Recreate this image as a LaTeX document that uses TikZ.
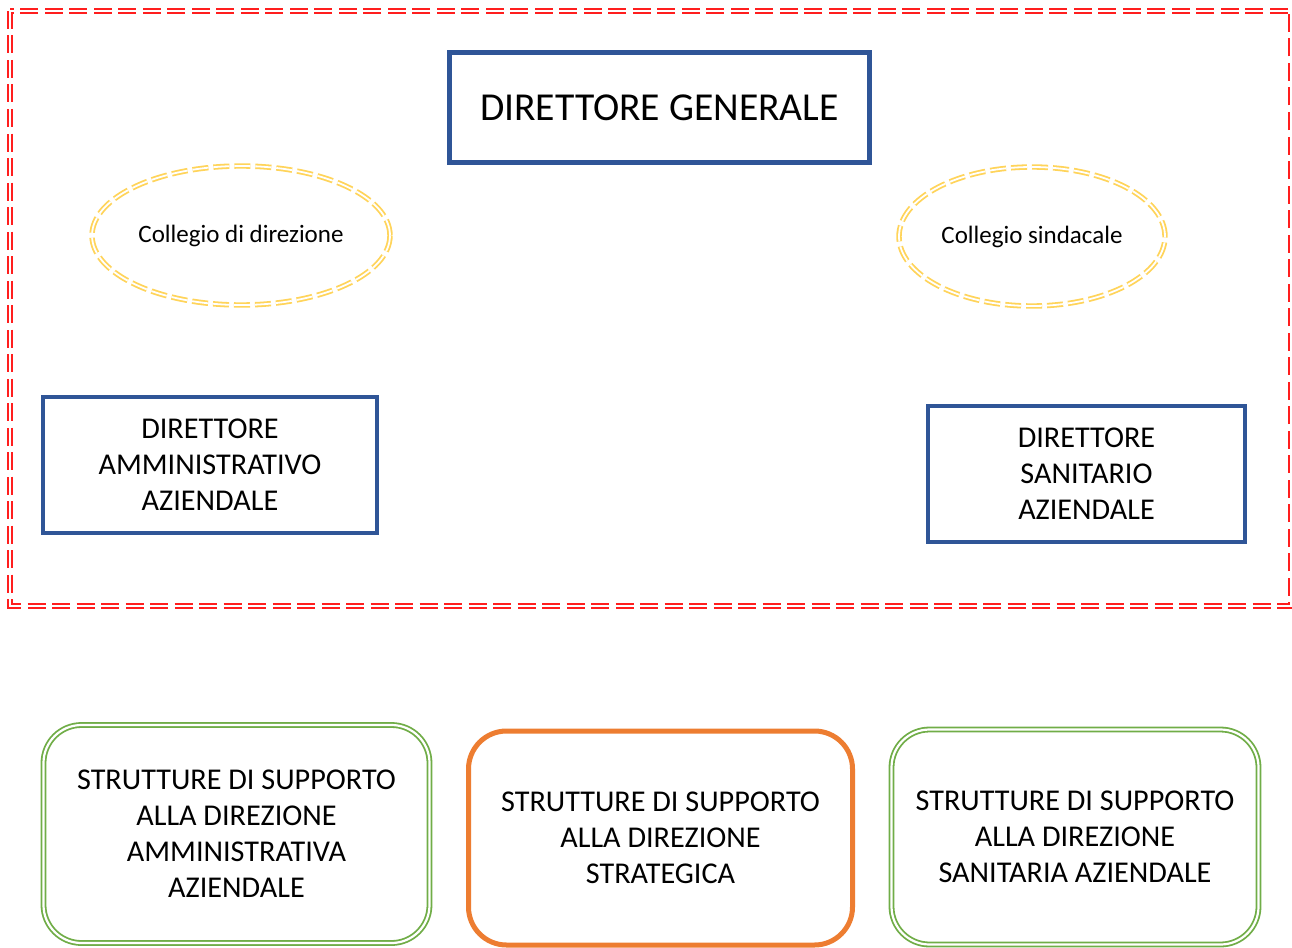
\documentclass[tikz,border=0pt]{standalone}
\usepackage{fontspec}
\setmainfont{Carlito}
\usetikzlibrary{shapes.geometric}
\definecolor{dirblue}{RGB}{47,85,151}
\definecolor{borderred}{RGB}{255,30,30}
\definecolor{colyellow}{RGB}{255,212,90}
\definecolor{supgreen}{RGB}{112,173,71}
\definecolor{suporange}{RGB}{237,125,49}
\tikzset{
  dirbox/.style={draw=dirblue, line width=4.5pt, align=center, inner sep=0pt,
    font=\fontsize{30.2}{36}\selectfont},
  colell/.style={ellipse, draw=colyellow, line width=1.8pt, double=white, double distance=1.8pt,
    dash pattern=on 16pt off 5pt, inner sep=0pt, font=\fontsize{25}{30}\selectfont},
  greenbox/.style={draw=supgreen, line width=1.8pt, double=white, double distance=2.2pt,
    rounded corners=38pt, align=center, inner sep=0pt, font=\fontsize{30.2}{36}\selectfont},
  orangebox/.style={draw=suporange, line width=5pt, rounded corners=38pt, align=center,
    inner sep=0pt, font=\fontsize{30.2}{36}\selectfont},
  frame/.style={draw=borderred, line width=2.2pt, double=white, double distance=2.2pt,
    dash pattern=on 18pt off 6.5pt}
}
\begin{document}
\begin{tikzpicture}[x=1pt,y=-1pt]
\useasboundingbox[fill=white] (0,0) rectangle (1292,947);
% red dashed frame
\coordinate (f1) at (10,11);
\coordinate (f2) at (1291,606);
\draw[frame] (f1) rectangle (f2);
% directors
\node[dirbox, minimum width=420pt, minimum height=110pt, font=\fontsize{39.6}{46}\selectfont]
  (dg) at (659.5,107.5) {DIRETTORE GENERALE};
\node[dirbox, minimum width=334pt, minimum height=136pt]
  (da) at (210,465) {DIRETTORE\\AMMINISTRATIVO\\AZIENDALE};
\node[dirbox, minimum width=317pt, minimum height=136pt]
  (ds) at (1086.5,474) {DIRETTORE\\SANITARIO\\AZIENDALE};
% colleges
\node[colell, minimum width=298pt, minimum height=139pt]
  (cd) at (241,235.5) {Collegio di direzione};
\node[colell, minimum width=266pt, minimum height=139pt]
  (cs) at (1032,236.5) {Collegio sindacale};
% support structures
\node[greenbox, minimum width=386pt, minimum height=218pt]
  (sa) at (236.5,834) {STRUTTURE DI SUPPORTO\\ALLA DIREZIONE\\AMMINISTRATIVA\\AZIENDALE};
\node[orangebox, minimum width=384pt, minimum height=214pt]
  (sst) at (660.5,838) {STRUTTURE DI SUPPORTO\\ALLA DIREZIONE\\STRATEGICA};
\node[greenbox, minimum width=367pt, minimum height=215pt]
  (ss) at (1075,837) {STRUTTURE DI SUPPORTO\\ALLA DIREZIONE\\SANITARIA AZIENDALE};
\end{tikzpicture}
\end{document}
